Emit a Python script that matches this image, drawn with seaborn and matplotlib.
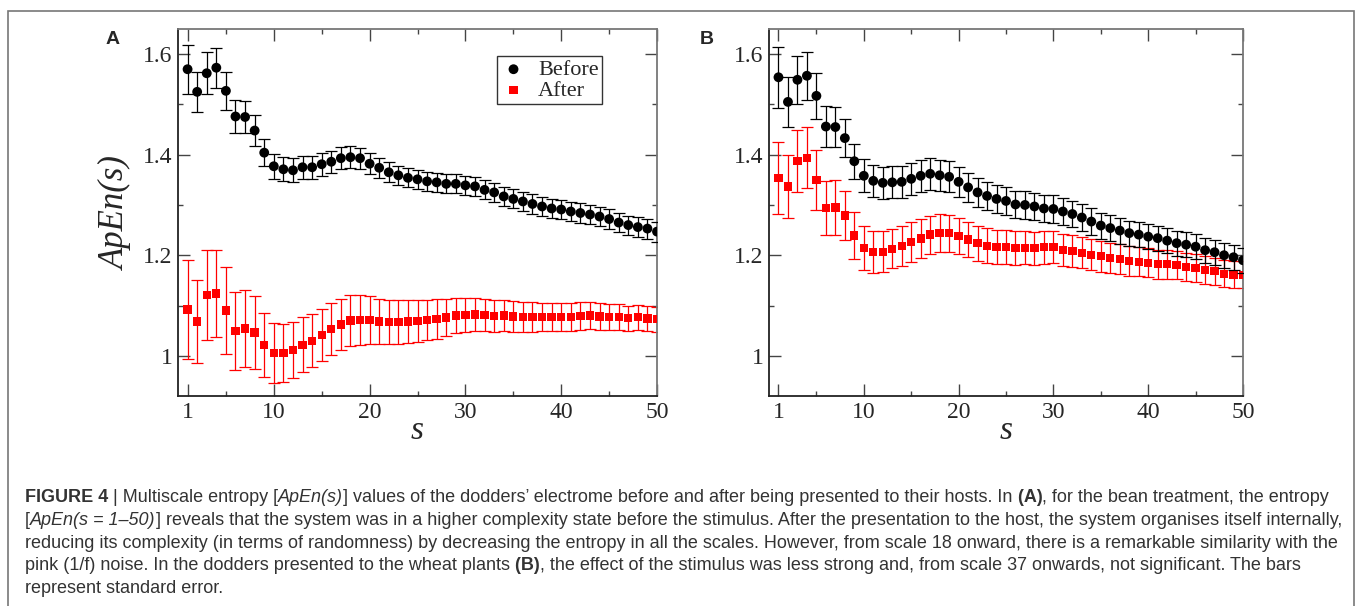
import matplotlib
matplotlib.use("Agg")
import matplotlib.pyplot as plt
from matplotlib.patches import Rectangle
from matplotlib.text import Annotation
import seaborn as sns

# scales s = 1..50
scales = list(range(1, 51))

# panel A (bean)
bean_before = [1.570, 1.525, 1.562, 1.573, 1.527, 1.476, 1.475, 1.448, 1.404, 1.377,
               1.371, 1.369, 1.375, 1.375, 1.381, 1.386, 1.393, 1.395, 1.393, 1.382,
               1.374, 1.365, 1.359, 1.354, 1.351, 1.347, 1.345, 1.342, 1.342, 1.339,
               1.337, 1.330, 1.325, 1.317, 1.312, 1.307, 1.302, 1.297, 1.293, 1.291,
               1.287, 1.284, 1.281, 1.277, 1.272, 1.265, 1.260, 1.256, 1.253, 1.247]
bean_before_se = [.049, .040, .042, .040, .038, .032, .032, .030, .027, .025,
                  .024, .024, .023, .023, .023, .022, .022, .022, .021, .021,
                  .020, .020, .019, .019, .019, .019, .019, .019, .019, .019,
                  .019, .019, .019, .019, .019, .019, .019, .019, .019, .019,
                  .019, .019, .019, .019, .019, .019, .019, .020, .020, .020]
bean_after = [1.092, 1.068, 1.121, 1.124, 1.090, 1.049, 1.054, 1.046, 1.021, 1.005,
              1.005, 1.011, 1.022, 1.030, 1.041, 1.053, 1.062, 1.070, 1.071, 1.071,
              1.068, 1.067, 1.067, 1.068, 1.069, 1.071, 1.073, 1.076, 1.080, 1.081,
              1.082, 1.081, 1.079, 1.080, 1.078, 1.077, 1.077, 1.077, 1.077, 1.077,
              1.077, 1.079, 1.080, 1.078, 1.077, 1.077, 1.075, 1.077, 1.074, 1.073]
bean_after_se = [.099, .083, .089, .087, .086, .078, .076, .072, .064, .060,
                 .058, .056, .055, .053, .052, .051, .050, .050, .049, .047,
                 .044, .043, .043, .042, .041, .040, .039, .037, .035, .034,
                 .033, .032, .031, .030, .030, .029, .029, .028, .028, .028,
                 .027, .027, .027, .026, .026, .026, .025, .025, .025, .025]

# panel B (wheat)
wheat_before = [1.554, 1.505, 1.549, 1.557, 1.517, 1.456, 1.455, 1.433, 1.387, 1.358,
                1.348, 1.344, 1.345, 1.346, 1.352, 1.358, 1.362, 1.359, 1.356, 1.346,
                1.335, 1.325, 1.318, 1.312, 1.308, 1.301, 1.300, 1.297, 1.293, 1.292,
                1.287, 1.282, 1.275, 1.267, 1.259, 1.254, 1.249, 1.244, 1.241, 1.237,
                1.234, 1.229, 1.224, 1.221, 1.217, 1.210, 1.206, 1.200, 1.196, 1.190]
wheat_before_se = [.061, .050, .048, .048, .046, .041, .040, .037, .035, .033,
                   .032, .032, .032, .032, .032, .032, .032, .031, .031, .030,
                   .029, .029, .028, .028, .028, .027, .027, .027, .027, .027,
                   .026, .026, .026, .026, .026, .026, .026, .025, .025, .025,
                   .025, .025, .025, .025, .025, .025, .025, .025, .025, .025]
wheat_after = [1.354, 1.337, 1.387, 1.394, 1.350, 1.294, 1.295, 1.279, 1.239, 1.215,
               1.207, 1.207, 1.213, 1.218, 1.226, 1.233, 1.241, 1.244, 1.244, 1.238,
               1.231, 1.224, 1.219, 1.217, 1.217, 1.215, 1.215, 1.214, 1.216, 1.217,
               1.211, 1.209, 1.205, 1.201, 1.198, 1.194, 1.192, 1.188, 1.187, 1.185,
               1.182, 1.182, 1.181, 1.177, 1.175, 1.171, 1.168, 1.163, 1.162, 1.161]
wheat_after_se = [.072, .062, .062, .061, .060, .054, .054, .049, .046, .044,
                  .042, .041, .039, .040, .040, .039, .038, .038, .037, .036,
                  .035, .035, .035, .034, .034, .034, .033, .033, .033, .032,
                  .032, .032, .031, .031, .031, .030, .030, .030, .029, .029,
                  .029, .029, .028, .028, .028, .028, .027, .027, .027, .027]

x_major = [1, 10, 20, 30, 40, 50]
x_minor = [5, 15, 25, 35, 45]
y_major = [1.0, 1.2, 1.4, 1.6]
y_major_labels = ["1", "1.2", "1.4", "1.6"]
y_minor = [1.1, 1.3, 1.5]

caption_lines = [
    [("FIGURE 4", "bold"), (" | Multiscale entropy [", "normal"), ("ApEn(s)", "italic"),
     ("] values of the dodders\u2019 electrome before and after being presented to their hosts. In", "normal"),
     (" (A)", "bold"), (", for the bean treatment, the entropy", "normal")],
    [("[", "normal"), ("ApEn(s = 1\u201350)", "italic"),
     ("] reveals that the system was in a higher complexity state before the stimulus. "
      "After the presentation to the host, the system organises itself internally,", "normal")],
    [("reducing its complexity (in terms of randomness) by decreasing the entropy in all the scales. "
      "However, from scale 18 onward, there is a remarkable similarity with the", "normal")],
    [("pink (1/f) noise. In the dodders presented to the wheat plants", "normal"), (" (B)", "bold"),
     (", the effect of the stimulus was less strong and, from scale 37 onwards, not significant. The bars", "normal")],
    [("represent standard error.", "normal")],
]

sns.set_style("ticks")
serif = ["Liberation Serif", "DejaVu Serif"]
sans = ["Liberation Sans", "DejaVu Sans"]
plt.rcParams["font.family"] = serif

W, H = 1357, 606
fig = plt.figure(figsize=(W / 100, H / 100), dpi=100)
fig.patch.set_facecolor("white")


def px_axes(x0, y0, x1, y1):
    return fig.add_axes([x0 / W, 1 - y1 / H, (x1 - x0) / W, (y1 - y0) / H])


axA = px_axes(178, 29, 657, 396)
axB = px_axes(769, 29, 1243, 396)

for ax, before, before_se, after, after_se in [
        (axA, bean_before, bean_before_se, bean_after, bean_after_se),
        (axB, wheat_before, wheat_before_se, wheat_after, wheat_after_se)]:
    ax.errorbar(scales, after, yerr=after_se, fmt="none", ecolor="#ff0000",
                elinewidth=0.9, capsize=4, capthick=0.9, zorder=2)
    sns.scatterplot(x=scales, y=after, ax=ax, marker="s", color="#ff0000",
                    s=36, edgecolor="none", linewidth=0, label="After", zorder=3, legend=False)
    ax.errorbar(scales, before, yerr=before_se, fmt="none", ecolor="black",
                elinewidth=0.9, capsize=4, capthick=0.9, zorder=4)
    sns.scatterplot(x=scales, y=before, ax=ax, marker="o", color="black",
                    s=50, edgecolor="none", linewidth=0, label="Before", zorder=5, legend=False)

    ax.set_xlim(0, 50)
    ax.set_ylim(0.92, 1.65)
    ax.set_xticks(x_major)
    ax.set_xticks(x_minor, minor=True)
    ax.set_yticks(y_major)
    ax.set_yticklabels(y_major_labels)
    ax.set_yticks(y_minor, minor=True)
    ax.tick_params(which="both", direction="in", top=True, right=True,
                   labelsize=17, color="#444444", width=1.0)
    ax.tick_params(which="major", length=8.5, pad=4)
    ax.tick_params(which="minor", length=3.6)
    for side in ["left", "bottom"]:
        ax.spines[side].set_color("#222222")
        ax.spines[side].set_linewidth(1.3)
    for side in ["top", "right"]:
        ax.spines[side].set_color("#777777")
        ax.spines[side].set_linewidth(1.3)
    ax.set_xlabel("s", fontsize=24, style="italic")
    ax.xaxis.set_label_coords(0.5, -0.052)
    ax.set_ylabel("")

axA.set_ylabel("ApEn(s)", fontsize=25, style="italic")
axA.yaxis.set_label_coords(-0.095, 0.5)

handles, labels = axA.get_legend_handles_labels()
order = [labels.index("Before"), labels.index("After")]
leg = axA.legend([handles[i] for i in order], [labels[i] for i in order],
                 loc="upper right", bbox_to_anchor=(0.885, 0.926), fontsize=16,
                 frameon=True, fancybox=False, framealpha=1, edgecolor="#333333",
                 borderpad=0.15, labelspacing=0.0, handletextpad=0.5,
                 handlelength=1.2, borderaxespad=0)
leg.get_frame().set_linewidth(1.0)

fig.text(113 / W, 1 - 40 / H, "A", family=sans, weight="bold", fontsize=14,
         ha="center", va="center")
fig.text(707 / W, 1 - 40 / H, "B", family=sans, weight="bold", fontsize=14,
         ha="center", va="center")

# outer frame of the figure panel
fig.patches.append(Rectangle((8 / W, -0.02), (1354 - 8) / W, (H - 11) / H + 0.02,
                             transform=fig.transFigure, fill=False,
                             edgecolor="#777777", linewidth=1.2))

# caption, segment by segment so bold / italic parts can be mixed
baselines = [502, 525, 548, 570.5, 593]
for base, parts in zip(baselines, caption_lines):
    prev = None
    for text, kind in parts:
        kw = dict(family=sans, fontsize=13.0, color="#333333",
                  weight="bold" if kind == "bold" else "normal",
                  style="italic" if kind == "italic" else "normal")
        if prev is None:
            prev = fig.text(25 / W, 1 - base / H, text, va="baseline", ha="left", **kw)
        else:
            prev = fig.add_artist(Annotation(text, xy=(1, 0), xycoords=prev,
                                             va="bottom", ha="left", **kw))

fig.savefig("out.png", dpi=100, facecolor="white")
